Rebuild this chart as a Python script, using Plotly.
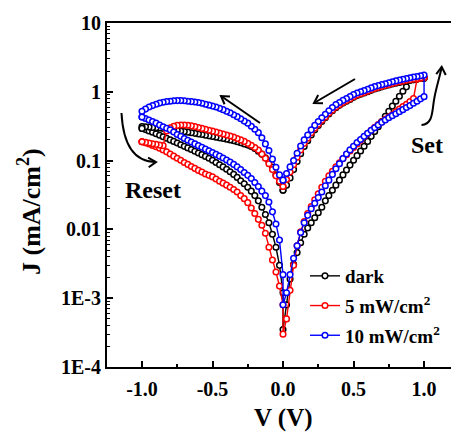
import numpy as np
import plotly.graph_objects as go

# ---------------- data ----------------
V_POS = [0.0, 0.025, 0.05, 0.075, 0.1, 0.125, 0.15, 0.175, 0.2, 0.225, 0.25, 0.275, 0.3, 0.325,
         0.35, 0.375, 0.4, 0.425, 0.45, 0.475, 0.5, 0.525, 0.55, 0.575, 0.6, 0.625, 0.65, 0.675,
         0.7, 0.725, 0.75, 0.775, 0.8, 0.825, 0.85, 0.875, 0.9, 0.925, 0.95, 0.975, 1.0]
V_NEG = [-0.0, -0.025, -0.05, -0.075, -0.1, -0.125, -0.15, -0.175, -0.2, -0.225, -0.25, -0.275, -0.3,
         -0.325, -0.35, -0.375, -0.4, -0.425, -0.45, -0.475, -0.5, -0.525, -0.55, -0.575, -0.6, -0.625,
         -0.65, -0.675, -0.7, -0.725, -0.75, -0.775, -0.8, -0.825, -0.85, -0.875, -0.9, -0.925, -0.95,
         -0.975, -1.0]

# dark: lower-right (0->1), upper-right (listed 0->1), upper-left (listed 0->-1), lower-left (listed 0->-1)
dark_lr = [0.00035, 0.0008, 0.0019, 0.0031, 0.0046, 0.0064, 0.0085, 0.0105, 0.0125, 0.0148, 0.0175,
           0.021, 0.026, 0.031, 0.037, 0.044, 0.052, 0.062, 0.073, 0.086, 0.101, 0.118, 0.138, 0.162,
           0.19, 0.225, 0.265, 0.31, 0.37, 0.44, 0.52, 0.62, 0.73, 0.86, 1.02, 1.18, 1.47, 1.50, 1.53,
           1.56, 1.58]
dark_ur = [0.037, 0.044, 0.056, 0.074, 0.097, 0.126, 0.16, 0.195, 0.235, 0.28, 0.325, 0.37, 0.42,
           0.475, 0.53, 0.585, 0.635, 0.685, 0.73, 0.775, 0.83, 0.88, 0.92, 0.96, 1.0, 1.05, 1.1, 1.14,
           1.18, 1.22, 1.26, 1.3, 1.33, 1.37, 1.4, 1.44, 1.47, 1.5, 1.53, 1.56, 1.58]
dark_ul = [0.037, 0.048, 0.062, 0.08, 0.097, 0.11, 0.124, 0.137, 0.15, 0.16, 0.168, 0.175, 0.182,
           0.188, 0.194, 0.199, 0.204, 0.209, 0.214, 0.219, 0.224, 0.229, 0.234, 0.239, 0.244, 0.249,
           0.254, 0.259, 0.264, 0.269, 0.274, 0.279, 0.284, 0.289, 0.293, 0.297, 0.301, 0.304, 0.307,
           0.31, 0.312]
dark_ll = [0.0012, 0.003, 0.0055, 0.0085, 0.0125, 0.0165, 0.021, 0.026, 0.031, 0.036, 0.041, 0.046,
           0.051, 0.057, 0.063, 0.069, 0.075, 0.081, 0.087, 0.094, 0.101, 0.108, 0.115, 0.122, 0.129,
           0.137, 0.145, 0.153, 0.161, 0.17, 0.18, 0.19, 0.2, 0.211, 0.222, 0.234, 0.246, 0.258, 0.27,
           0.282, 0.294]

p5_lr = [0.0003, 0.0005, 0.0013, 0.003, 0.0058, 0.0092, 0.013, 0.017, 0.0215, 0.027, 0.033, 0.041,
         0.05, 0.06, 0.07, 0.081, 0.093, 0.107, 0.122, 0.138, 0.155, 0.175, 0.198, 0.222, 0.248, 0.275,
         0.305, 0.335, 0.365, 0.4, 0.43, 0.465, 0.51, 0.56, 0.61, 0.66, 0.72, 0.8, 1.52, 1.58, 1.62]
p5_ur = [0.042, 0.053, 0.068, 0.087, 0.112, 0.143, 0.178, 0.212, 0.253, 0.295, 0.338, 0.385, 0.432,
         0.49, 0.545, 0.6, 0.65, 0.7, 0.745, 0.79, 0.85, 0.9, 0.935, 0.975, 1.02, 1.07, 1.12, 1.16, 1.2,
         1.24, 1.28, 1.32, 1.36, 1.4, 1.43, 1.47, 1.5, 1.53, 1.56, 1.59, 1.62]
p5_ul = [0.042, 0.05, 0.06, 0.074, 0.09, 0.108, 0.125, 0.142, 0.155, 0.167, 0.178, 0.19, 0.2, 0.21,
         0.22, 0.228, 0.236, 0.244, 0.252, 0.26, 0.268, 0.276, 0.285, 0.294, 0.303, 0.312, 0.32, 0.326,
         0.33, 0.33, 0.325, 0.315, 0.3, 0.27, 0.165, 0.168, 0.172, 0.176, 0.18, 0.184, 0.188]
p5_ll = [0.0008, 0.0015, 0.0024, 0.0036, 0.0055, 0.0088, 0.0115, 0.014, 0.017, 0.0205, 0.0245, 0.028,
         0.031, 0.035, 0.038, 0.041, 0.044, 0.047, 0.05, 0.054, 0.058, 0.061, 0.064, 0.068, 0.072,
         0.077, 0.082, 0.088, 0.094, 0.101, 0.108, 0.116, 0.125, 0.134, 0.143, 0.151, 0.159, 0.166,
         0.174, 0.181, 0.188]

p10_lr = [0.0008, 0.0012, 0.0022, 0.0038, 0.0058, 0.009, 0.0125, 0.016, 0.02, 0.024, 0.029, 0.035,
          0.043, 0.052, 0.063, 0.076, 0.09, 0.107, 0.125, 0.143, 0.162, 0.183, 0.203, 0.225, 0.25,
          0.275, 0.3, 0.33, 0.36, 0.39, 0.42, 0.45, 0.48, 0.515, 0.55, 0.59, 0.63, 0.68, 0.73, 0.79, 0.85]
p10_ur = [0.052, 0.065, 0.081, 0.1, 0.128, 0.163, 0.2, 0.235, 0.28, 0.325, 0.37, 0.42, 0.47, 0.53,
          0.59, 0.65, 0.7, 0.75, 0.8, 0.85, 0.91, 0.96, 1.0, 1.04, 1.09, 1.14, 1.19, 1.23, 1.27, 1.31,
          1.35, 1.4, 1.44, 1.48, 1.52, 1.56, 1.6, 1.64, 1.67, 1.71, 1.75]
p10_ul = [0.052, 0.062, 0.08, 0.105, 0.14, 0.175, 0.215, 0.255, 0.285, 0.315, 0.35, 0.375, 0.405,
          0.435, 0.465, 0.495, 0.52, 0.55, 0.575, 0.6, 0.62, 0.64, 0.66, 0.68, 0.7, 0.71, 0.72, 0.73,
          0.74, 0.745, 0.745, 0.74, 0.73, 0.72, 0.705, 0.685, 0.66, 0.63, 0.6, 0.56, 0.52]
p10_ll = [0.0022, 0.007, 0.012, 0.018, 0.025, 0.031, 0.036, 0.042, 0.048, 0.055, 0.061, 0.067, 0.074,
          0.081, 0.088, 0.095, 0.102, 0.109, 0.116, 0.123, 0.131, 0.139, 0.147, 0.156, 0.165, 0.175,
          0.186, 0.198, 0.21, 0.225, 0.24, 0.26, 0.28, 0.295, 0.31, 0.33, 0.35, 0.37, 0.39, 0.41, 0.43]

SERIES = [
    ("dark", "#000000", dark_lr, dark_ur, dark_ul, dark_ll),
    ("5 mW/cm<sup>2</sup>", "#ff0000", p5_lr, p5_ur, p5_ul, p5_ll),
    ("10 mW/cm<sup>2</sup>", "#0000ff", p10_lr, p10_ur, p10_ul, p10_ll),
]

Y_TICKS = [1e-4, 1e-3, 0.01, 0.1, 1, 10]
Y_TICKTEXT = ["1E-4", "1E-3", "0.01", "0.1", "1", "10"]
X_TICKS = [-1.0, -0.5, 0.0, 0.5, 1.0]
X_TICKTEXT = ["-1.0", "-0.5", "0.0", "0.5", "1.0"]

FONT = "Liberation Serif"

# ---------------- figure ----------------
W, H = 451, 432
ML, MR, MT, MB = 107, 0, 23, 65
PW, PH = W - ML - MR, H - MT - MB


def px(x):
    return (x - ML) / PW


def py(y):
    return (H - MB - y) / PH


fig = go.Figure()
for i, (name, col, lr, ur, ul, ll) in enumerate(SERIES):
    xs = V_NEG[::-1] + V_POS + V_POS[::-1] + V_NEG + [V_NEG[-1]]
    ys = ll[::-1] + lr + ur[::-1] + ul + [ll[-1]]
    fig.add_trace(go.Scatter(
        x=xs, y=ys, name=name, mode="lines+markers", legendgroup=str(i),
        line=dict(color=col, width=1.4),
        marker=dict(symbol="circle", size=5.6, color="white", line=dict(color=col, width=1.5)),
    ))

minor_vals = [m * 10.0 ** e for e in range(-4, 1) for m in range(2, 10)]

fig.update_layout(
    width=W, height=H,
    margin=dict(l=ML, r=MR, t=MT, b=MB),
    paper_bgcolor="white", plot_bgcolor="white",
    font=dict(family=FONT, color="black"),
    showlegend=True,
    legend=dict(x=px(305), y=py(257), xanchor="left", yanchor="top",
                bgcolor="rgba(0,0,0,0)", font=dict(family=FONT, size=19, weight="bold"),
                tracegroupgap=2, itemwidth=30),
    xaxis=dict(range=[-1.248, 1.191], showgrid=False, zeroline=False,
               showline=True, linecolor="black", linewidth=2, mirror=True,
               ticks="inside", ticklen=6, tickwidth=1.5, tickcolor="black",
               tickmode="array", tickvals=X_TICKS, ticktext=X_TICKTEXT,
               ticklabelstandoff=3,
               tickfont=dict(family=FONT, size=20, weight="bold"),
               minor=dict(ticks="inside", ticklen=3, tickwidth=1.5, tickcolor="black",
                          tickvals=[-0.75, -0.25, 0.25, 0.75])),
    yaxis=dict(type="log", range=[-4, 1], showgrid=False, zeroline=False,
               showline=True, linecolor="black", linewidth=2, mirror=False,
               ticks="inside", ticklen=6, tickwidth=1.5, tickcolor="black",
               tickmode="array", tickvals=Y_TICKS, ticktext=Y_TICKTEXT,
               tickfont=dict(family=FONT, size=20, weight="bold"),
               minor=dict(ticks="inside", ticklen=3, tickwidth=1, tickcolor="black",
                          tickvals=minor_vals)),
)

ann = dict(xref="paper", yref="paper", showarrow=False, xanchor="center", yanchor="middle")
# axis titles & labels
fig.add_annotation(text="V (V)", x=px(283), y=py(418), font=dict(family=FONT, size=25, weight="bold"), **ann)
fig.add_annotation(text="J (mA/cm<sup>2</sup>)", x=px(29), y=py(212), textangle=-90,
                   font=dict(family=FONT, size=26, weight="bold"), **ann)
fig.add_annotation(text="Reset", x=px(153), y=py(190), font=dict(family=FONT, size=24, weight="bold"), **ann)
fig.add_annotation(text="Set", x=px(427), y=py(145), font=dict(family=FONT, size=24, weight="bold"), **ann)


def head(tip, frm, length=9, ang=32):
    t = np.array(tip, float)
    d = t - np.array(frm, float)
    d = d / np.linalg.norm(d)
    out = []
    for s in (1, -1):
        a = np.deg2rad(s * ang)
        r = np.array([d[0] * np.cos(a) - d[1] * np.sin(a), d[0] * np.sin(a) + d[1] * np.cos(a)])
        out.append(t - r * length)
    return f"M {px(out[0][0])},{py(out[0][1])} L {px(t[0])},{py(t[1])} L {px(out[1][0])},{py(out[1][1])}"


arrow_style = dict(type="path", xref="paper", yref="paper", line=dict(color="black", width=2))
# straight arrows
for tail, tip in [((355, 79), (314, 103)), ((260, 123), (221, 96))]:
    fig.add_shape(path=f"M {px(tail[0])},{py(tail[1])} L {px(tip[0])},{py(tip[1])}", **arrow_style)
    fig.add_shape(path=head(tip, tail), **arrow_style)
# reset curved arrow
fig.add_shape(path=f"M {px(121.5)},{py(113)} Q {px(124)},{py(162)} {px(156)},{py(162)}", **arrow_style)
fig.add_shape(path=head((156, 162), (140, 163)), **arrow_style)
# set curved arrow
fig.add_shape(path=(f"M {px(421.5)},{py(125)} C {px(433)},{py(124)} {px(432)},{py(112)} {px(434)},{py(100)}"
                    f" S {px(440)},{py(76)} {px(441.7)},{py(67)}"), **arrow_style)
fig.add_shape(path=head((441.7, 67), (440.5, 80)), **arrow_style)

fig.write_html("out.html")
